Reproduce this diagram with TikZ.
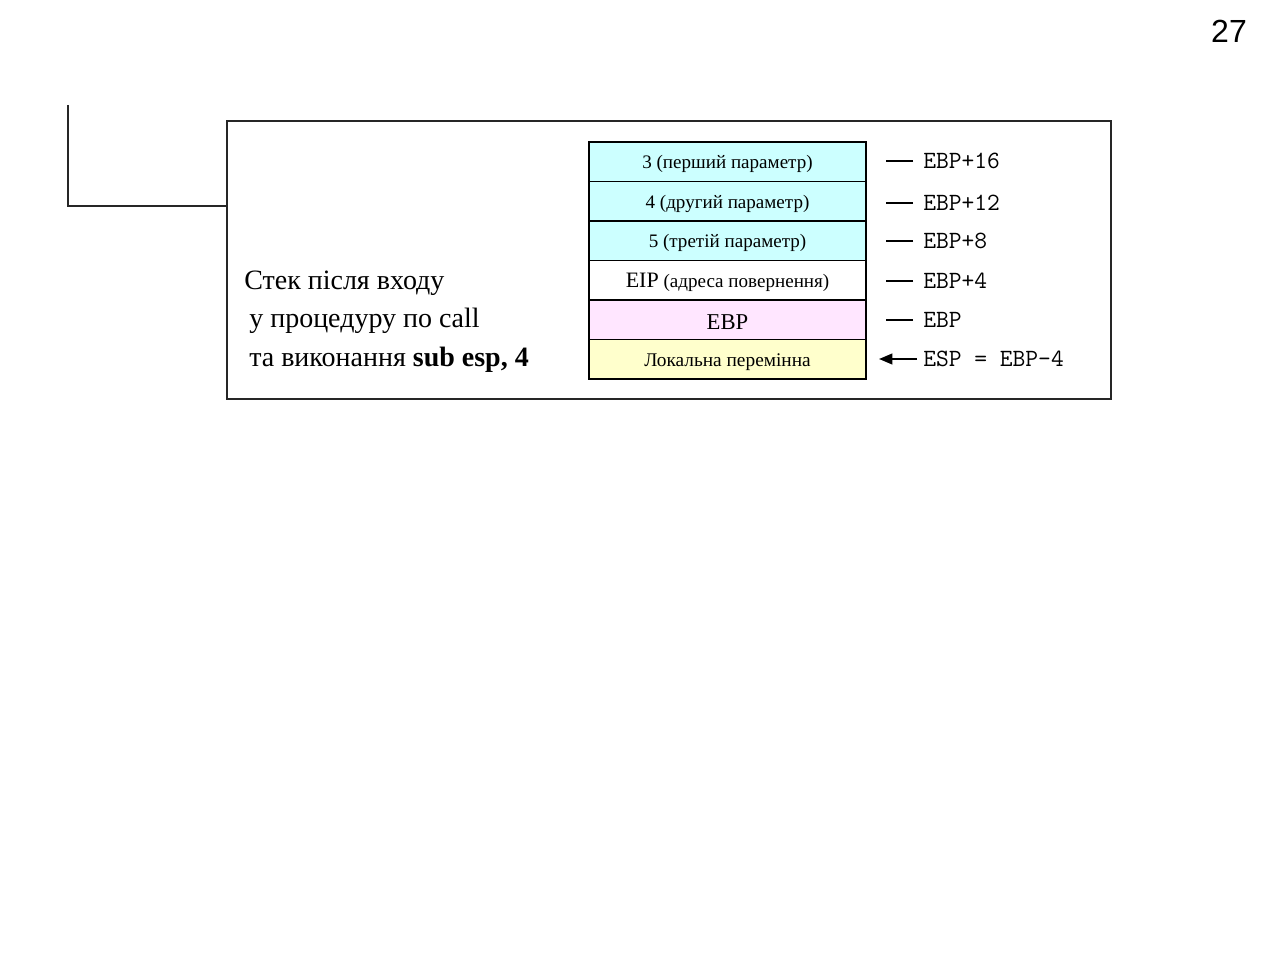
\documentclass[tikz,border=0pt]{standalone}
\usepackage{fontspec}
\setmainfont{Liberation Serif}
\newfontfamily\numfont{Liberation Sans}
\usetikzlibrary{arrows.meta}
\definecolor{paramcol}{HTML}{CCFFFF}
\definecolor{ebpcol}{HTML}{FFE6FF}
\definecolor{localcol}{HTML}{FFFFCC}
\begin{document}
\begin{tikzpicture}[x=0.75pt,y=-0.75pt,
  cell/.style={draw=black,line width=1.3pt,minimum width=207.75pt,minimum height=29.6pt,
    inner sep=0pt,text height=10.5pt,text depth=0pt,font=\fontsize{14.3}{16}\selectfont},
  offlabel/.style={anchor=west,inner sep=0pt,font=\ttfamily\fontsize{18.6}{20}\selectfont},
  tick/.style={line width=0.8pt},
  caption/.style={anchor=base west,inner sep=0pt,font=\fontsize{21}{24}\selectfont},
  frame/.style={draw=black!85,line width=0.9pt}]
\useasboundingbox (0,0) rectangle (1280,955);

% page number
\node[font=\numfont\fontsize{24}{28}\selectfont,inner sep=0pt] (pagenum) at (1229,31) {27};

% outer frame and its lead line
\node[frame,minimum width=663pt,minimum height=208.5pt,inner sep=0pt] (panel) at (669,260) {};
\coordinate (leadtop) at (68,105);
\draw[frame] (leadtop) |- (panel.west |- 0,206);

% caption
\node[caption] (cap1) at (244,290) {Стек після входу};
\node[caption] (cap2) at (249,328) {у процедуру по call};
\node[caption] (cap3) at (249,366) {та виконання \textbf{sub esp, 4}};

% stack cells
\node[cell,fill=paramcol] (p1) at (727.5,161.75) {3 (перший параметр)};
\node[cell,fill=paramcol] (p2) at (727.5,201.25) {4 (другий параметр)};
\node[cell,fill=paramcol] (p3) at (727.5,240.75) {5 (третій параметр)};
\node[cell,fill=white] (eip) at (727.5,280.25) {{\fontsize{16.5}{18}\selectfont EIP} (адреса повернення)};
\node[cell,fill=ebpcol,text height=14.5pt] (ebp) at (727.5,319.75) {{\fontsize{17}{19}\selectfont EBP}};
\node[cell,fill=localcol] (loc) at (727.5,359.25) {{\fontsize{14.5}{16}\selectfont Локальна перемінна}};

% offsets
\node[offlabel] (o1) at (923,161) {EBP+16};
\node[offlabel] (o2) at (923,203) {EBP+12};
\node[offlabel] (o3) at (923,241) {EBP+8};
\node[offlabel] (o4) at (923,281) {EBP+4};
\node[offlabel] (o5) at (923,320) {EBP};
\node[offlabel] (o6) at (923,359) {ESP = EBP-4};

\foreach \n in {o1,o2,o3,o4,o5}
  \draw[tick] ([xshift=-7.5pt]\n.west) -- ++(-27,0);
\draw[line width=1.5pt,-{Triangle[length=10pt,width=8pt]}] ([xshift=-4.5pt]o6.west) -- ++(-38,0);
\end{tikzpicture}
\end{document}
